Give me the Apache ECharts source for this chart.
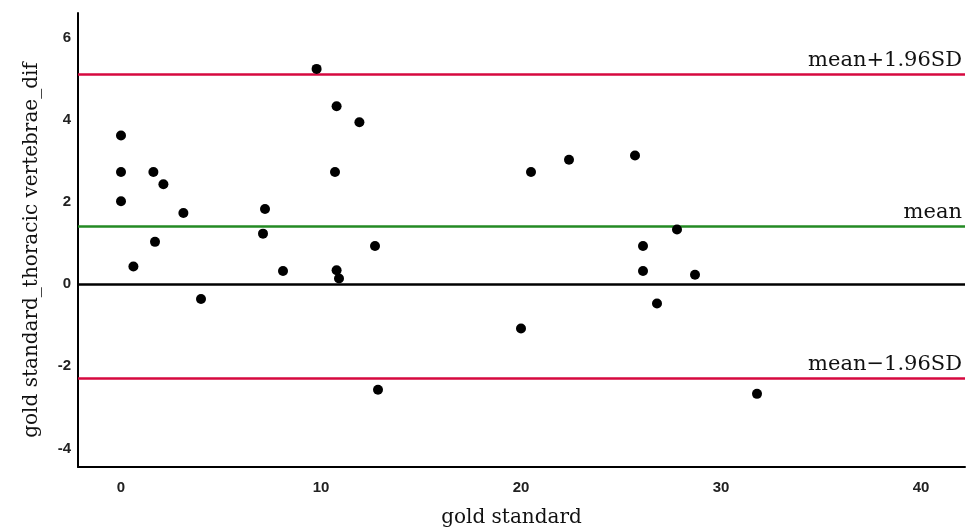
<!DOCTYPE html>
<html>
<head>
<meta charset="utf-8">
<script src="https://cdn.jsdelivr.net/npm/echarts@6/dist/echarts.min.js"></script>
<style>html,body{margin:0;padding:0;background:#fff}#c{width:966px;height:530px}</style>
</head>
<body>
<div id="c"></div>
<script>
// Data
const goldStandard = [0, 0, 0, 1.62, 2.12, 3.12, 1.7, 0.62, 4.0, 9.78, 10.78, 11.92, 10.7, 7.2, 7.1, 12.7, 8.1, 10.78, 10.9, 12.85,
                      20.5, 22.4, 25.7, 27.8, 26.1, 26.1, 28.7, 26.8, 20.0, 31.8];
const difference   = [3.62, 2.73, 2.02, 2.73, 2.43, 1.73, 1.03, 0.43, -0.36, 5.24, 4.33, 3.94, 2.73, 1.83, 1.23, 0.93, 0.32, 0.34, 0.14, -2.57,
                      2.73, 3.03, 3.13, 1.33, 0.93, 0.32, 0.23, -0.47, -1.08, -2.67];
const meanDiff = 1.41;
const upperLoA = 5.11;
const lowerLoA = -2.29;
const xTicks = [0, 10, 20, 30, 40];
const yTicks = [-4, -2, 0, 2, 4, 6];
const lineLabels = ['mean+1.96SD', 'mean', 'mean\u22121.96SD'];

const points = goldStandard.map((x, i) => [x, difference[i]]);
const serif = 'DejaVu Serif';
const tickFont = {fontFamily: 'Liberation Sans', fontSize: 15, fontWeight: 'bold', color: '#222'};
const lblStyle = {show: true, position: 'insideEndTop', fontFamily: serif, fontSize: 21, color: '#111', distance: 3};

const chart = echarts.init(document.getElementById('c'), null, {renderer: 'canvas'});
chart.setOption({
  animation: false,
  backgroundColor: '#fff',
  grid: {left: 78, right: 1, top: 13, bottom: 63, containLabel: false, outerBoundsMode: 'none'},
  xAxis: {
    type: 'value', min: -2.15, max: 42.2,
    name: 'gold standard', nameLocation: 'middle', nameGap: 41,
    nameTextStyle: {fontFamily: serif, fontSize: 20, color: '#111', padding: [0, 20, 0, 0]},
    axisLine: {show: true, onZero: false, lineStyle: {color: '#000', width: 2}},
    axisTick: {show: false},
    splitLine: {show: false},
    axisLabel: Object.assign({customValues: xTicks, margin: 13}, tickFont)
  },
  yAxis: {
    type: 'value', min: -4.45, max: 6.6,
    name: 'gold standard_thoracic vertebrae_dif', nameLocation: 'middle', nameGap: 36,
    nameTextStyle: {fontFamily: serif, fontSize: 20, color: '#111', padding: [0, 20, 0, 0]},
    axisLine: {show: true, onZero: false, lineStyle: {color: '#000', width: 2}},
    axisTick: {show: false},
    splitLine: {show: false},
    axisLabel: Object.assign({customValues: yTicks, margin: 7}, tickFont)
  },
  series: [{
    type: 'scatter',
    data: points,
    symbolSize: 10,
    itemStyle: {color: '#000', opacity: 1},
    z: 5,
    markLine: {
      silent: true,
      symbol: 'none',
      animation: false,
      z: 1,
      data: [
        {yAxis: 0, lineStyle: {color: '#000', width: 2.5, type: 'solid'}, label: {show: false}},
        {yAxis: upperLoA, lineStyle: {color: '#d6083f', width: 2.5, type: 'solid'}, label: Object.assign({formatter: lineLabels[0]}, lblStyle)},
        {yAxis: meanDiff, lineStyle: {color: '#238a23', width: 2.5, type: 'solid'}, label: Object.assign({formatter: lineLabels[1]}, lblStyle)},
        {yAxis: lowerLoA, lineStyle: {color: '#d6083f', width: 2.5, type: 'solid'}, label: Object.assign({formatter: lineLabels[2]}, lblStyle)}
      ]
    }
  }]
});
</script>
</body>
</html>
